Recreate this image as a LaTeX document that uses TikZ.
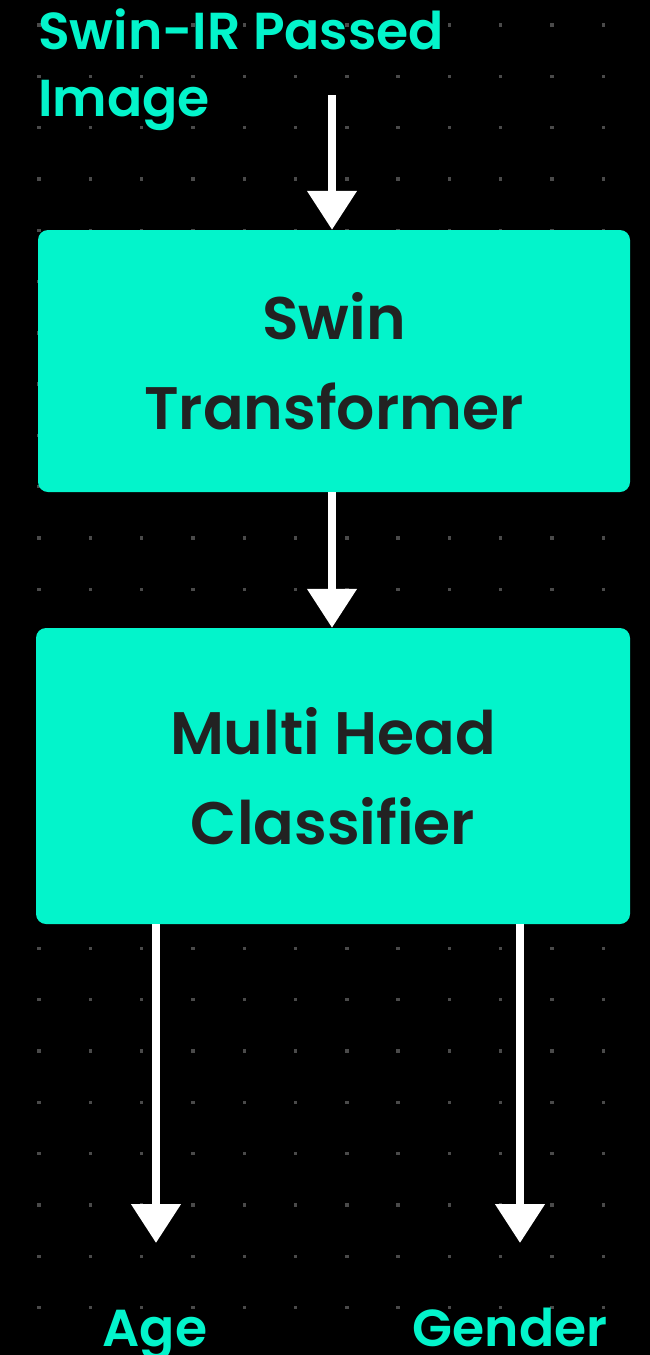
\documentclass[tikz,border=0pt]{standalone}
\usepackage{fontspec}
\setmainfont{Poppins}[BoldFont={* SemiBold}]
\usepackage{tikz}
\usetikzlibrary{positioning,arrows.meta,calc}

\definecolor{mint}{HTML}{03F4CB}
\definecolor{ink}{HTML}{222222}
\definecolor{dotgray}{HTML}{4A4A4A}

\tikzset{
  stage/.style={rectangle,fill=mint,rounded corners=10pt,inner sep=0pt,
    align=center,text=ink,font=\bfseries\fontsize{60}{90}\selectfont},
  tag/.style={inner sep=0pt,text=mint,font=\bfseries\fontsize{52}{67}\selectfont},
  flow/.style={draw=white,line width=8pt,-{Triangle[width=48pt,length=39pt]}}
}

\begin{document}
\begin{tikzpicture}[x=1pt,y=-1pt]
  % page and dotted grid
  \fill[black] (0,0) rectangle (650,1355);
  \useasboundingbox (0,0) rectangle (650,1355);
  \foreach \i in {0,...,11}
    \foreach \j in {0,...,25}
      \fill[dotgray] ($(39,25)+(51.3*\i,51.3*\j)$) +(-1.7,-1.7) rectangle +(1.7,1.7);
  % input
  \node[tag,anchor=north west,align=left] (input) at (38,9) {Swin-IR Passed\\Image};
  \coordinate (start) at (332,95);
  % stages
  \node[stage,minimum width=592pt,minimum height=262pt] (swin) at (334,361) {Swin\\Transformer};
  \node[stage,minimum width=594pt,minimum height=296pt] (mhc) at (333,776) {Multi Head\\Classifier};
  % outputs
  \node[tag,anchor=base] (age) at (155,1346) {Age};
  \node[tag,anchor=base] (gender) at (510,1346) {Gender};
  \coordinate (agetip) at (156,1243);
  \coordinate (gendertip) at (520,1243);
  % flow
  \draw[flow] (start) -- (start |- swin.north);
  \draw[flow] (swin.south -| start) -- (mhc.north -| start);
  \draw[flow] (mhc.south -| agetip) -- (agetip);
  \draw[flow] (mhc.south -| gendertip) -- (gendertip);
\end{tikzpicture}
\end{document}
